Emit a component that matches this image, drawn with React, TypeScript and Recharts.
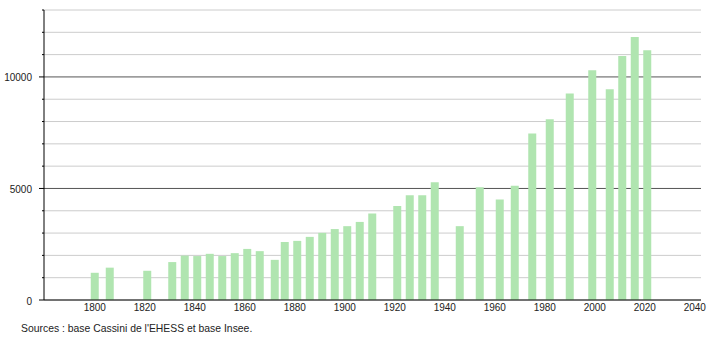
import React from 'react';
import { BarChart, Bar, XAxis, YAxis, CartesianGrid } from 'recharts';

// census years and population counts
const years = [
  1800, 1806, 1821, 1831, 1836, 1841, 1846, 1851, 1856, 1861, 1866, 1872, 1876, 1881, 1886, 1891,
  1896, 1901, 1906, 1911, 1921, 1926, 1931, 1936, 1946, 1954, 1962, 1968, 1975, 1982, 1990, 1999,
  2006, 2011, 2016, 2021,
];
const population = [
  1220, 1450, 1310, 1700, 1990, 1970, 2070, 1970, 2100, 2290, 2190, 1800, 2600, 2650, 2830, 3010,
  3180, 3310, 3500, 3880, 4210, 4700, 4700, 5280, 3310, 5050, 4510, 5120, 7460, 8100, 9260, 10300,
  9450, 10940, 11790, 11200,
];
const xTicks = [1800, 1820, 1840, 1860, 1880, 1900, 1920, 1940, 1960, 1980, 2000, 2020, 2040];
const yTicks = [0, 1000, 2000, 3000, 4000, 5000, 6000, 7000, 8000, 9000, 10000, 11000, 12000, 13000];
const sourceText = "Sources : base Cassini de l'EHESS et base Insee.";

const BAR_COLOR = '#b0e5b0';
const FONT = "'Liberation Sans', Arial, sans-serif";

const YTick = ({ x, y, payload }: any) => {
  const major = payload.value % 5000 === 0;
  return (
    <g>
      <line x1={x - (major ? 5 : 2)} x2={x} y1={y} y2={y} stroke="#000" />
      {major && (
        <text x={x - 12} y={y} dy="0.45em" textAnchor="end" fontSize={10} fill="#222">
          {payload.value}
        </text>
      )}
    </g>
  );
};

// darker line every 5000, light grey otherwise
const GridLine = (props: any) => {
  const { x1, x2, y1 } = props;
  const value = ((300 - y1) / 290) * 13000;
  const major = Math.abs(value - 5000) < 200 || Math.abs(value - 10000) < 200;
  return <line x1={x1} x2={x2} y1={y1} y2={y1} stroke={major ? '#555' : '#ccc'} strokeWidth={1} />;
};

export default function App() {
  const data = years.map((year, i) => ({ year, population: population[i] }));

  return (
    <div style={{ position: 'absolute', left: 0, top: 0, width: 710, height: 340, fontFamily: FONT }}>
      <BarChart width={710} height={340} data={data} margin={{ top: 10, right: 9, left: 0, bottom: 0 }}>
        <CartesianGrid vertical={false} horizontal={(p: any) => <GridLine key={p.key} {...p} />} />
        <XAxis
          dataKey="year"
          type="number"
          domain={[1779.7, 2042.5]}
          allowDataOverflow
          ticks={xTicks}
          interval={0}
          height={40}
          tickSize={0}
          tickMargin={4}
          axisLine={{ stroke: '#000' }}
          tick={{ fontSize: 10, fill: '#222' }}
        />
        <YAxis
          type="number"
          domain={[0, 13000]}
          ticks={yTicks}
          interval={0}
          width={44}
          tickSize={0}
          tickMargin={0}
          tickLine={false}
          axisLine={{ stroke: '#000' }}
          tick={<YTick />}
        />
        <Bar dataKey="population" fill={BAR_COLOR} barSize={8} isAnimationActive={false} />
      </BarChart>
      <div
        style={{
          position: 'absolute',
          left: 21,
          top: 323,
          fontSize: 10.4,
          lineHeight: '12px',
          color: '#222',
          whiteSpace: 'nowrap',
        }}
      >
        {sourceText}
      </div>
    </div>
  );
}
